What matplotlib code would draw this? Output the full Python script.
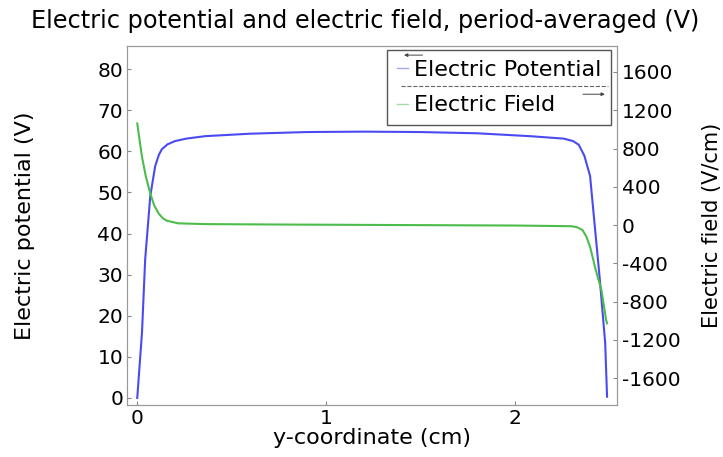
import matplotlib.pyplot as plt

plt.rcParams['axes.unicode_minus'] = False

# potential along y (cm -> V)
y_pot = [0.0, 0.025, 0.042, 0.069, 0.095, 0.115, 0.13, 0.16, 0.2, 0.26, 0.36, 0.6, 0.9, 1.2, 1.5, 1.8,
         2.08, 2.26, 2.31, 2.34, 2.37, 2.40, 2.42, 2.45, 2.48, 2.49]
v_pot = [0.0, 15.8, 33.7, 49.1, 56.4, 59.2, 60.5, 61.7, 62.5, 63.1, 63.7, 64.3, 64.7, 64.8, 64.7, 64.4,
         63.7, 63.1, 62.5, 61.6, 58.9, 54.0, 44.2, 29.6, 13.4, 0.3]

# field along y (V/cm)
y_fld = [0.0, 0.025, 0.046, 0.069, 0.09, 0.113, 0.135, 0.157, 0.217, 0.36, 0.8, 1.4, 2.0, 2.3, 2.33,
         2.36, 2.38, 2.40, 2.43, 2.46, 2.485, 2.49]
e_fld = [1062, 713, 504, 331, 205, 122, 72, 45, 18, 10, 5, 0, -5, -12, -22, -52, -120, -227, -470,
         -679, -992, -1027]

fig = plt.figure(figsize=(7.23, 4.57), dpi=100)
ax = fig.add_axes([0.176, 0.114, 0.678, 0.785])
ax2 = ax.twinx()

l1, = ax.plot(y_pot, v_pot, color='#4a4af2', lw=1.5, label='Electric Potential')
l2, = ax2.plot(y_fld, e_fld, color='#4cbc4c', lw=1.5, label='Electric Field')

ax.set_xlim(-0.053, 2.545)
ax.set_ylim(-1.7, 85.6)
ax2.set_ylim(-1880, 1870)
ax.set_xticks([0, 1, 2])
ax.set_yticks(range(0, 81, 10))
ax2.set_yticks(range(-1600, 1601, 400))

for a in (ax, ax2):
    a.tick_params(direction='in', length=3, labelsize=14.5, color='#888888', pad=3)
    for s in a.spines.values():
        s.set_color('#999999')

ax.set_title('Electric potential and electric field, period-averaged (V)', fontsize=17.3, pad=13,
             x=0.485)
ax.set_xlabel('y-coordinate (cm)', fontsize=16, labelpad=0)
ax.set_ylabel('Electric potential (V)', fontsize=16)
ax.yaxis.set_label_coords(-0.188, 0.5)
ax2.set_ylabel('Electric field (V/cm)', fontsize=15)
ax2.yaxis.set_label_coords(1.173, 0.5)

leg = ax.legend(handles=[l1, l2], loc='upper right', fontsize=16, handlelength=0.5,
                handletextpad=0.25, fancybox=False, framealpha=1, edgecolor='#555555',
                borderaxespad=0.0, labelspacing=0.7, borderpad=0.45,
                bbox_to_anchor=(0.987, 0.99))
for h in leg.get_lines():
    h.set_linewidth(1.0)
    h.set_alpha(0.5)

# separator and small arrows inside the legend box
ax.plot([0.559, 0.98], [0.89, 0.89], transform=ax.transAxes, ls='--', lw=0.8,
        color='#666666', zorder=10)
ax.annotate('', xy=(0.559, 0.975), xytext=(0.608, 0.975), xycoords='axes fraction',
            arrowprops=dict(arrowstyle='-|>', lw=0.7, color='#444444', mutation_scale=5), zorder=10)
ax.annotate('', xy=(0.98, 0.866), xytext=(0.924, 0.866), xycoords='axes fraction',
            arrowprops=dict(arrowstyle='-|>', lw=0.7, color='#444444', mutation_scale=5), zorder=10)

plt.savefig('out.png')
